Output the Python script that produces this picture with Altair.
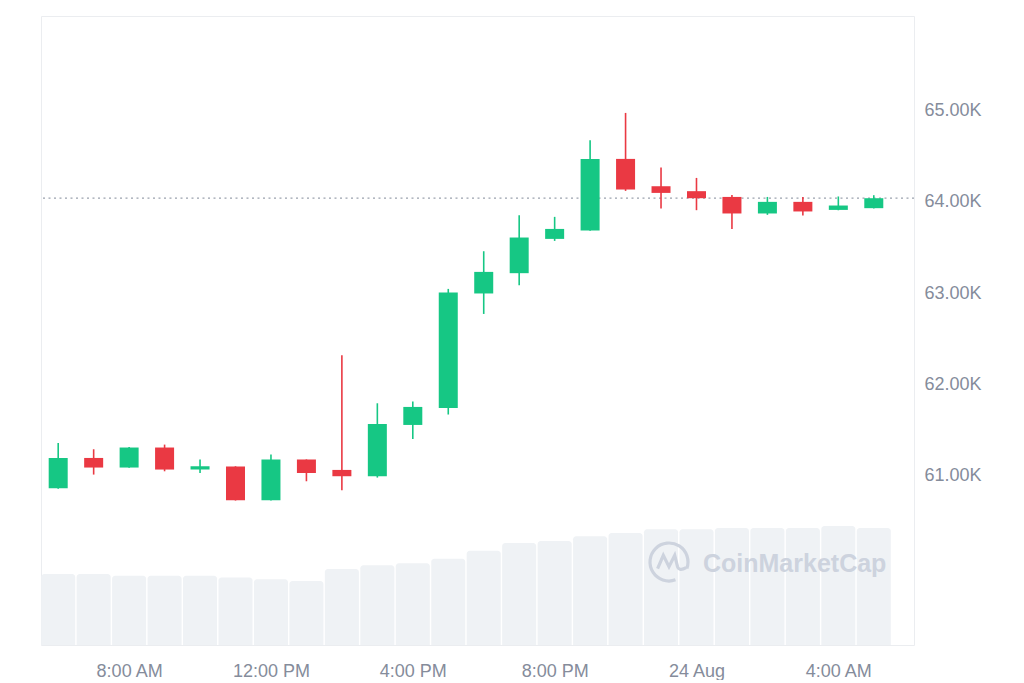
import altair as alt
import pandas as pd

# Hourly candles, 23 Aug 6:00 AM .. 24 Aug 5:00 AM (BTC/USD)
hour_index = list(range(24))
opens  = [60864, 61196, 61091, 61310, 61069, 61102, 60733, 61178, 61065, 60996, 61557, 61743,
          62995, 63217, 63592, 63684, 64467, 64168, 64114, 64051, 63870, 63997, 63909, 63928]
highs  = [61360, 61291, 61315, 61342, 61178, 61105, 61233, 61180, 62319, 61794, 61813, 63045,
          63457, 63851, 63833, 64672, 64970, 64373, 64259, 64073, 64051, 64051, 64056, 64070]
lows   = [60860, 61014, 61088, 61050, 61032, 60730, 60730, 60941, 60842, 60981, 61404, 61671,
          62771, 63085, 63570, 63680, 64117, 63925, 63906, 63701, 63855, 63848, 63905, 63925]
closes = [61196, 61091, 61310, 61069, 61105, 60733, 61178, 61032, 60996, 61568, 61754, 63005,
          63231, 63607, 63701, 64467, 64132, 64095, 64037, 63870, 63997, 63892, 63957, 64037]
volumes = [26.3, 26.3, 25.6, 25.6, 25.6, 25.0, 24.3, 23.7, 28.1, 29.5, 30.2, 31.9,
           34.9, 37.7, 38.5, 40.2, 41.4, 42.8, 42.8, 43.3, 43.3, 43.3, 44.0, 43.3]

tick_positions = [2, 6, 10, 14, 18, 22]
tick_labels = ["8:00 AM", "12:00 PM", "4:00 PM", "8:00 PM", "24 Aug", "4:00 AM"]
price_ticks = [61000, 62000, 63000, 64000, 65000]

GREEN = "#16C784"
RED = "#EA3943"
GREY_TXT = "#858C9B"
FONT = "Liberation Sans"

df = pd.DataFrame({"i": hour_index, "open": opens, "high": highs, "low": lows,
                   "close": closes, "volume": volumes})
last_df = pd.DataFrame({"price": [closes[-1]]})
wm_df = pd.DataFrame({"t": ["CoinMarketCap"]})

x_dom = [-0.485, 24.134]
label_expr = "[" + ",".join("'%s'" % t for t in tick_labels) + "][indexof([" + \
    ",".join(str(p) for p in tick_positions) + "], datum.value)]"

x_axis = alt.Axis(values=tick_positions, labelExpr=label_expr, grid=False, ticks=False,
                  domain=False, labelPadding=17, labelFont=FONT, labelFontSize=18,
                  labelColor=GREY_TXT, title=None)
x_scale = alt.Scale(domain=x_dom, nice=False, zero=False)

base = alt.Chart(df)

vol = base.transform_calculate(
    x0="datum.i - 0.48", x1="datum.i + 0.48", zero="0"
).mark_bar(color="#EFF2F5", cornerRadiusTopLeft=3, cornerRadiusTopRight=3).encode(
    x=alt.X("x0:Q", scale=x_scale, axis=x_axis),
    x2="x1:Q",
    y=alt.Y("volume:Q", scale=alt.Scale(domain=[0, 232.7], nice=False), axis=None),
    y2="zero:Q",
)

logo_path = ("M 0.94 0.34 A 1 1 0 1 0 0.34 0.94 "
             "M -0.6 0.35 L -0.3 -0.35 L 0 0.25 L 0.3 -0.35 L 0.45 0.25 Q 0.55 0.5 0.9 0.3")
logo = alt.Chart(wm_df).mark_point(shape=logo_path, filled=False, strokeWidth=3.2,
                                    color="#CDD3DE", opacity=1).encode(
    x=alt.value(628), y=alt.value(546), size=alt.value(1444))
wm_text = alt.Chart(wm_df).mark_text(align="left", baseline="middle", font=FONT,
                                      fontSize=25, fontWeight="bold",
                                      color="#CDD3DE").encode(
    x=alt.value(662), y=alt.value(548), text="t:N")

y_scale = alt.Scale(domain=[59150, 66030], nice=False, zero=False)
y_axis = alt.Axis(orient="right", values=price_ticks, ticks=False, domain=False,
                  labelExpr="format(datum.value / 1000, '.2f') + 'K'",
                  labelPadding=10, labelFont=FONT, labelFontSize=18, labelColor=GREY_TXT,
                  gridColor="#EFF0F2", gridWidth=1, title=None)

color_enc = alt.Color("dir:N", scale=alt.Scale(domain=["up", "down"], range=[GREEN, RED]),
                      legend=None)

price_base = base.transform_calculate(
    dir="datum.close >= datum.open ? 'up' : 'down'",
    b0="datum.i - 0.268", b1="datum.i + 0.268",
)

last_line = alt.Chart(last_df).mark_rule(color="#9AA1AD", strokeDash=[2, 3.5],
                                         strokeWidth=1.2).encode(
    y=alt.Y("price:Q", scale=y_scale, axis=y_axis))

wick = price_base.mark_rule(strokeWidth=1.6).encode(
    x=alt.X("i:Q", scale=x_scale, axis=x_axis),
    y=alt.Y("low:Q", scale=y_scale, axis=y_axis),
    y2="high:Q",
    color=color_enc,
)
body = price_base.mark_bar(strokeWidth=0).encode(
    x=alt.X("b0:Q", scale=x_scale, axis=x_axis),
    x2="b1:Q",
    y=alt.Y("open:Q", scale=y_scale, axis=y_axis),
    y2="close:Q",
    color=color_enc,
)

price = alt.layer(last_line, wick, body)

chart = alt.layer(vol, logo, wm_text, price).resolve_scale(
    y="independent"
).properties(
    width=873, height=629,
    padding={"left": 32, "top": 8, "right": 5, "bottom": 0},
    background="white",
).configure_view(stroke="#EBEDF0", strokeWidth=1)

chart.save("out.html", embed_options={"renderer": "svg", "actions": False})
